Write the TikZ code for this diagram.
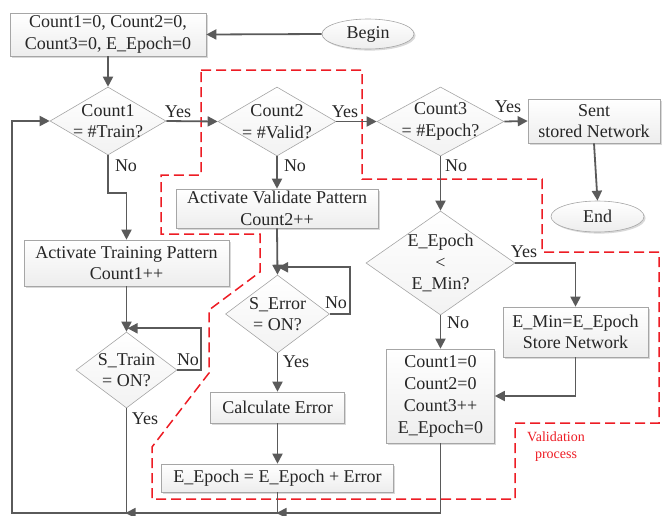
\documentclass[tikz,border=0pt]{standalone}
\usepackage{fontspec}
\setmainfont{Liberation Serif}
\usetikzlibrary{shapes.geometric,arrows.meta,calc,shadows}
\definecolor{lc}{HTML}{5A5A5A}
\definecolor{bc}{HTML}{A6A6A6}
\definecolor{vred}{HTML}{ED1C24}
\definecolor{tc}{HTML}{262626}
\begin{document}
\begin{tikzpicture}[x=1pt,y=-1pt,
  font=\fontsize{18}{21.5}\selectfont, text=tc,
  sh/.style={drop shadow={shadow xshift=1.6pt, shadow yshift=-1.6pt, opacity=0.3, fill=gray}},
  box/.style={rectangle, draw=bc, line width=0.6pt, top color=white, bottom color=gray!14,
              align=center, inner sep=1pt, sh},
  term/.style={ellipse, draw=bc, line width=0.6pt, top color=white, bottom color=gray!14,
              inner sep=0pt, sh},
  dia/.style={diamond, draw=bc, line width=0.6pt, top color=white, bottom color=gray!10, inner sep=0pt},
  dtext/.style={align=center, inner sep=0pt},
  lab/.style={inner sep=0pt},
  arr/.style={draw=lc, line width=1.8pt, -{Triangle[length=10pt,width=10pt]}},
  ln/.style={draw=lc, line width=1.8pt},
  vdash/.style={draw=vred, line width=1.5pt, dash pattern=on 10pt off 5pt}]
\useasboundingbox (0,0) rectangle (664,515);

% validation region
\draw[vdash] (201,70) -- (362,70) -- (362,179) -- (542,179) -- (542,252) -- (659,252)
  -- (659,423) -- (515,423) -- (515,499) -- (152,499) -- (152,447) -- (209,373)
  -- (209,310) -- (260,272) -- (260,234) -- (161,234) -- (161,175) -- (201,175) -- cycle;
\node[text=vred, font=\fontsize{14}{17}\selectfont, align=center] (vp) at (556,447) {Validation\\process};

% nodes
\node[box, minimum width=196pt, minimum height=43pt] (init) at (108,34.5) {Count1=0, Count2=0,\\Count3=0, E\_Epoch=0};
\node[term, minimum width=92pt, minimum height=30pt] (begin) at (368,34) {Begin};

\node[dia, minimum width=116pt, minimum height=68pt] (d1) at (108,121) {};
\node[dtext] (d1t) at (d1.center) {Count1\\= \#Train?};
\node[dia, minimum width=118pt, minimum height=69pt] (d2) at (277,121.5) {};
\node[dtext] (d2t) at (d2.center) {Count2\\= \#Valid?};
\node[dia, minimum width=127pt, minimum height=69pt] (d3) at (440.5,121.5) {};
\node[dtext] (d3t) at (d3.center) {Count3\\= \#Epoch?};
\node[box, minimum width=132pt, minimum height=44pt] (sent) at (594,121) {Sent\\stored Network};
\node[term, minimum width=93pt, minimum height=31pt] (end) at (597.5,216.5) {End};

\node[box, minimum width=202pt, minimum height=39pt] (actv) at (277,208.5) {Activate Validate Pattern\\Count2++};
\node[box, minimum width=205pt, minimum height=46pt] (actt) at (126.5,263) {Activate Training Pattern\\Count1++};

\node[dia, minimum width=101pt, minimum height=76pt] (dtr) at (126.5,370) {};
\node[dtext] (dtrt) at (dtr.center) {S\_Train\\= ON?};
\node[dia, minimum width=104pt, minimum height=78pt] (der) at (277.5,314) {};
\node[dtext] (dert) at (der.center) {S\_Error\\= ON?};
\node[box, minimum width=134pt, minimum height=31pt] (calc) at (277.5,407.5) {Calculate Error};
\node[box, minimum width=232pt, minimum height=28pt] (eep) at (277.5,478) {E\_Epoch = E\_Epoch + Error};

\node[dia, minimum width=149pt, minimum height=104pt] (dmin) at (440.5,263) {};
\node[dtext] (dmint) at (dmin.center) {E\_Epoch\\<\\E\_Min?};
\node[box, minimum width=145pt, minimum height=50pt] (emin) at (575.5,332) {E\_Min=E\_Epoch\\Store Network};
\node[box, minimum width=108pt, minimum height=94pt, font=\fontsize{18}{22}\selectfont] (cnt) at (440.5,396) {Count1=0\\Count2=0\\Count3++\\E\_Epoch=0};

% yes/no labels
\node[lab] (y1) at (178,112) {Yes};
\node[lab] (n1) at (126,166) {No};
\node[lab] (y2) at (345,112) {Yes};
\node[lab] (n2) at (295,166) {No};
\node[lab] (y3) at (508,107) {Yes};
\node[lab] (n3) at (456,166) {No};
\node[lab] (nerr) at (336,303) {No};
\node[lab] (yerr) at (296,362) {Yes};
\node[lab] (ntr) at (188,360) {No};
\node[lab] (ytr) at (145,419) {Yes};
\node[lab] (ymin) at (524,252) {Yes};
\node[lab] (nmin) at (458,323) {No};

% helper coordinates
\coordinate (bot) at (0,513);
\coordinate (lft) at (12,513);
\coordinate (trj) at (dtr.south |- bot);
\coordinate (eej) at (eep.south |- bot);
\coordinate (cnj) at (cnt.south |- bot);

% connectors
\draw[arr] (begin.west) -- (init.east);
\draw[arr] (init.south) -- (d1.north);
\draw[arr] (d1.east) -- (d2.west);
\draw[arr] (d2.east) -- (d3.west);
\draw[arr] (d3.east) -- (sent.west);
\draw[arr] (sent.south) -- (end.north);
\draw[arr] (d1.south) -- ++(0,38) -| (actt.north);
\draw[arr] (d2.south) -- (actv.north);
\draw[arr] (actv.south) -- (der.north);
\draw[arr] (der.east) -- ++(20,0) |- ($(actv.south)+(1,39)$);
\draw[arr] (der.south) -- (calc.north);
\draw[arr] (calc.south) -- (eep.north);
\draw[arr] (actt.south) -- (dtr.north);
\draw[arr] (dtr.east) -- ++(24,0) |- ($(actt.south)+(1,42)$);
\draw[ln] (dtr.south) -- (trj);
\draw[ln] (eep.south) -- (eej);
\draw[arr] (d3.south) -- (dmin.north);
\draw[arr] (dmin.east) -| (emin.north);
\draw[arr] (dmin.south) -- (cnt.north);
\draw[arr] (emin.south) |- (cnt.east);
\draw[arr] (cnt.south) -- (cnj) -- ($(eej)+(-1,0)$);
\draw[arr] (eej) -- ($(trj)+(-1,0)$);
\draw[arr] (trj) -- (lft) -- (lft |- d1.west) -- (d1.west);
\end{tikzpicture}
\end{document}
